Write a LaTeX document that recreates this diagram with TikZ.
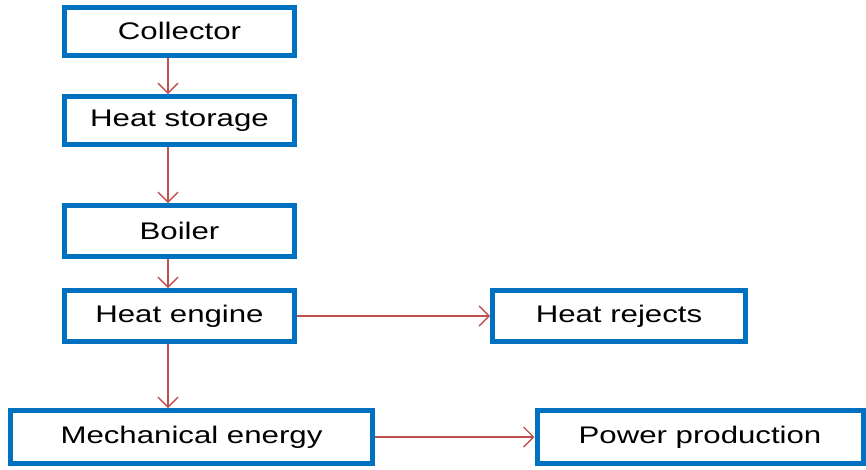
\documentclass[tikz,border=0pt]{standalone}
\usepackage{fontspec}
\setmainfont{Liberation Sans}[FakeStretch=1.3]
\usetikzlibrary{arrows.meta,positioning}

\definecolor{boxblue}{HTML}{0070C0}
\definecolor{arrowred}{HTML}{C0504D}
\tikzset{
  stagebox/.style={draw=boxblue, line width=5pt, fill=white, inner sep=0pt,
    minimum width=#1, minimum height=48pt, font=\fontsize{24}{28}\selectfont},
  flowarrow/.style={draw=arrowred, line width=1.4pt,
    -{Straight Barb[length=10pt,width=20pt,line width=1.4pt]}}
}

\begin{document}
\begin{tikzpicture}[x=1pt,y=-1pt]
  \useasboundingbox (0,0) rectangle (866,469);
  \node[stagebox=230pt] (collector) at (179.5,31) {Collector};
  \node[stagebox=230pt, minimum height=48pt] (storage) at (179.5,120.5) {Heat storage};
  \node[stagebox=230pt, minimum height=51pt] (boiler) at (179.5,231) {Boiler};
  \node[stagebox=230pt, minimum height=51pt] (engine) at (179.5,316) {Heat engine};
  \node[stagebox=253pt, minimum height=51pt] (rejects) at (619,316) {Heat rejects};
  \node[stagebox=362pt, minimum height=53pt] (mechanical) at (191.5,437) {Mechanical energy};
  \node[stagebox=326pt, minimum height=53pt] (power) at (700,437) {Power production};
  \coordinate (spine) at (168,0);
  \draw[flowarrow] (collector.south -| spine) -- (storage.north -| spine);
  \draw[flowarrow] (storage.south -| spine) -- (boiler.north -| spine);
  \draw[flowarrow] (boiler.south -| spine) -- (engine.north -| spine);
  \draw[flowarrow] (engine.south -| spine) -- (mechanical.north -| spine);
  \draw[flowarrow] (engine.east) -- (rejects.west);
  \draw[flowarrow] (mechanical.east) -- (power.west);
\end{tikzpicture}
\end{document}
